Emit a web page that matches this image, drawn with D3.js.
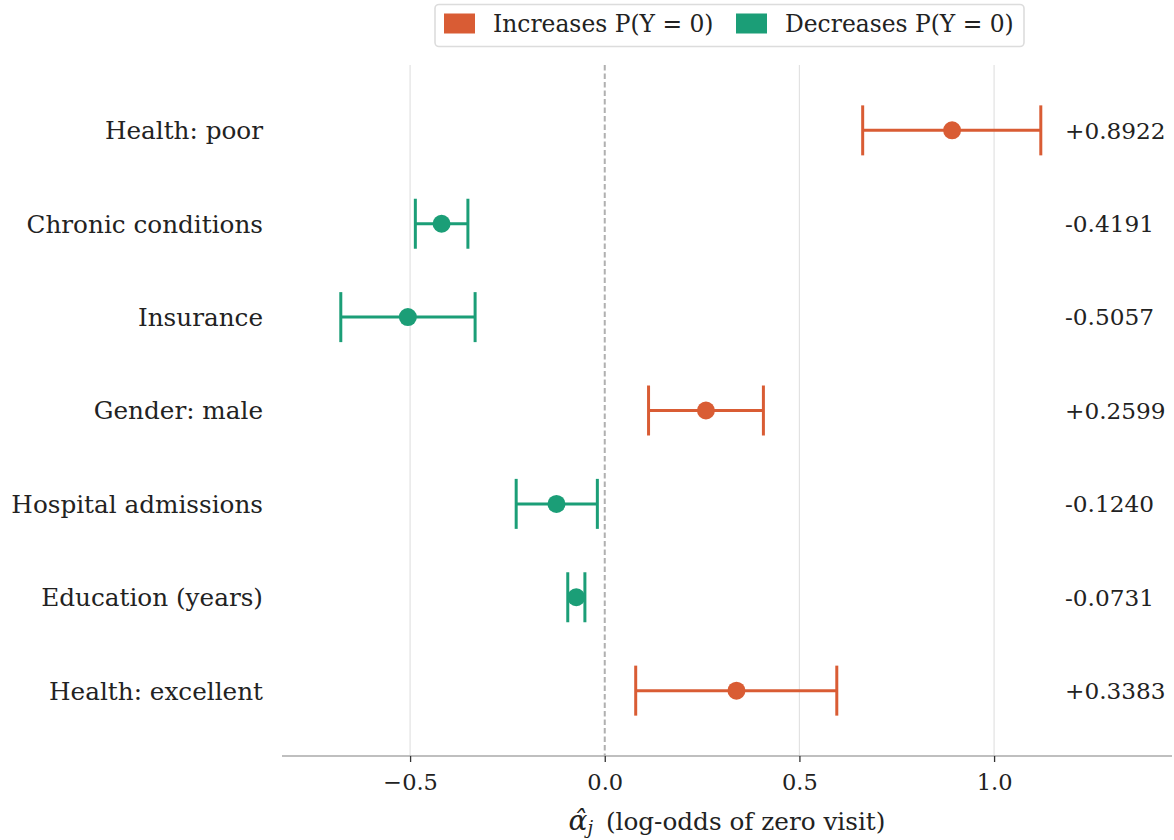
<!DOCTYPE html>
<html>
<head>
<meta charset="utf-8">
<script src="https://cdn.jsdelivr.net/npm/d3@7"></script>
<style>
  html, body { margin: 0; padding: 0; background: #fff; }
  svg { display: block; }
  text { font-family: "DejaVu Serif", serif; fill: #222; }
</style>
</head>
<body>
<svg id="chart" width="1174" height="840"></svg>
<script>
// ---- data ----
const categories = ["Health: poor", "Chronic conditions", "Insurance", "Gender: male",
                    "Hospital admissions", "Education (years)", "Health: excellent"];
const estimates = [0.8922, -0.4191, -0.5057, 0.2599, -0.1240, -0.0731, 0.3383];
const ciLower   = [0.6625, -0.4865, -0.6780, 0.1125, -0.2275, -0.0950, 0.0795];
const ciUpper   = [1.1200, -0.3515, -0.3330, 0.4075, -0.0190, -0.0510, 0.5960];
const valueLabels = ["+0.8922", "-0.4191", "-0.5057", "+0.2599", "-0.1240", "-0.0731", "+0.3383"];
const xTicks = [-0.5, 0.0, 0.5, 1.0];
const legendLabels = ["Increases P(Y = 0)", "Decreases P(Y = 0)"];

(function () {
const colorUp = "#d95c34", colorDown = "#1b9e77";

const svg = d3.select("#chart");
const pLeft = 282, pRight = 1172, pTop = 65, pBottom = 756;

const x = d3.scaleLinear().domain([-0.829, 1.457]).range([pLeft, pRight]);
const y = d3.scaleLinear().domain([-0.7, 6.7]).range([pTop, pBottom]);

const rows = categories.map((c, i) => ({
  cat: c, i, est: estimates[i], lo: ciLower[i], hi: ciUpper[i], lab: valueLabels[i]
}));

// grid lines
svg.append("g").selectAll("line").data(xTicks.filter(t => t !== 0)).join("line")
  .attr("x1", d => x(d)).attr("x2", d => x(d))
  .attr("y1", pTop).attr("y2", pBottom)
  .attr("stroke", "#e2e2e2").attr("stroke-width", 1.2);

// zero reference line
svg.append("line")
  .attr("x1", x(0)).attr("x2", x(0)).attr("y1", pTop).attr("y2", pBottom)
  .attr("stroke", "#b0b0b0").attr("stroke-width", 2).attr("stroke-dasharray", "5.5,3");

// x axis
const xAxis = d3.axisBottom(x).tickValues(xTicks)
  .tickFormat(d => d3.format(".1f")(d).replace("-", "\u2212"))
  .tickSize(6).tickPadding(12);
const gx = svg.append("g").attr("transform", `translate(0,${pBottom})`).call(xAxis);
gx.select(".domain").attr("stroke", "#aaaaaa").attr("stroke-width", 1.5)
  .attr("d", `M${pLeft},0H${pRight}`);
gx.selectAll(".tick line").attr("stroke", "#333").attr("stroke-width", 1.3);
gx.selectAll(".tick text").attr("font-family", "DejaVu Serif").attr("font-size", 22.5).attr("fill", "#222");

// axis label
const xl = svg.append("text").attr("x", (pLeft + pRight) / 2).attr("y", 830)
  .attr("text-anchor", "middle").attr("font-size", 24.7);
xl.append("tspan").attr("font-style", "italic").attr("font-size", 28).text("\u03B1\u0302");
xl.append("tspan").attr("font-style", "italic").attr("font-size", 18).attr("dy", 4).text("j");
xl.append("tspan").attr("dy", -4).text("\u2009 (log-odds of zero visit)");

// y labels
svg.append("g").selectAll("text").data(rows).join("text")
  .attr("x", 263).attr("y", d => y(d.i)).attr("dy", "0.36em")
  .attr("text-anchor", "end").attr("font-size", 24.7).text(d => d.cat);

// error bars
const g = svg.append("g");
const col = d => d.est >= 0 ? colorUp : colorDown;
g.selectAll("line.ci").data(rows).join("line").attr("class", "ci")
  .attr("x1", d => x(d.lo)).attr("x2", d => x(d.hi))
  .attr("y1", d => y(d.i)).attr("y2", d => y(d.i))
  .attr("stroke", col).attr("stroke-width", 3);
["lo", "hi"].forEach(k => {
  g.selectAll("line.cap" + k).data(rows).join("line").attr("class", "cap" + k)
    .attr("x1", d => x(d[k])).attr("x2", d => x(d[k]))
    .attr("y1", d => y(d.i) - 25).attr("y2", d => y(d.i) + 25)
    .attr("stroke", col).attr("stroke-width", 3);
});
g.selectAll("circle").data(rows).join("circle")
  .attr("cx", d => x(d.est)).attr("cy", d => y(d.i)).attr("r", 9)
  .attr("fill", col);

// value labels
svg.append("g").selectAll("text").data(rows).join("text")
  .attr("x", 1065).attr("y", d => y(d.i)).attr("dy", "0.36em")
  .attr("font-size", 23.2).text(d => d.lab);

// legend
const lg = svg.append("g");
lg.append("rect").attr("x", 435).attr("y", 4.5).attr("width", 589).attr("height", 42)
  .attr("rx", 4).attr("fill", "#fff").attr("stroke", "#dcdcdc").attr("stroke-width", 1.6);
const legItems = [
  { label: legendLabels[0], color: colorUp, x: 444 },
  { label: legendLabels[1], color: colorDown, x: 736 }
];
legItems.forEach(it => {
  lg.append("rect").attr("x", it.x).attr("y", 13.5).attr("width", 31).attr("height", 20)
    .attr("fill", it.color);
  lg.append("text").attr("x", it.x + 49).attr("y", 24).attr("dy", "0.36em")
    .attr("font-size", 23.4).text(it.label);
});
})();
</script>
</body>
</html>
